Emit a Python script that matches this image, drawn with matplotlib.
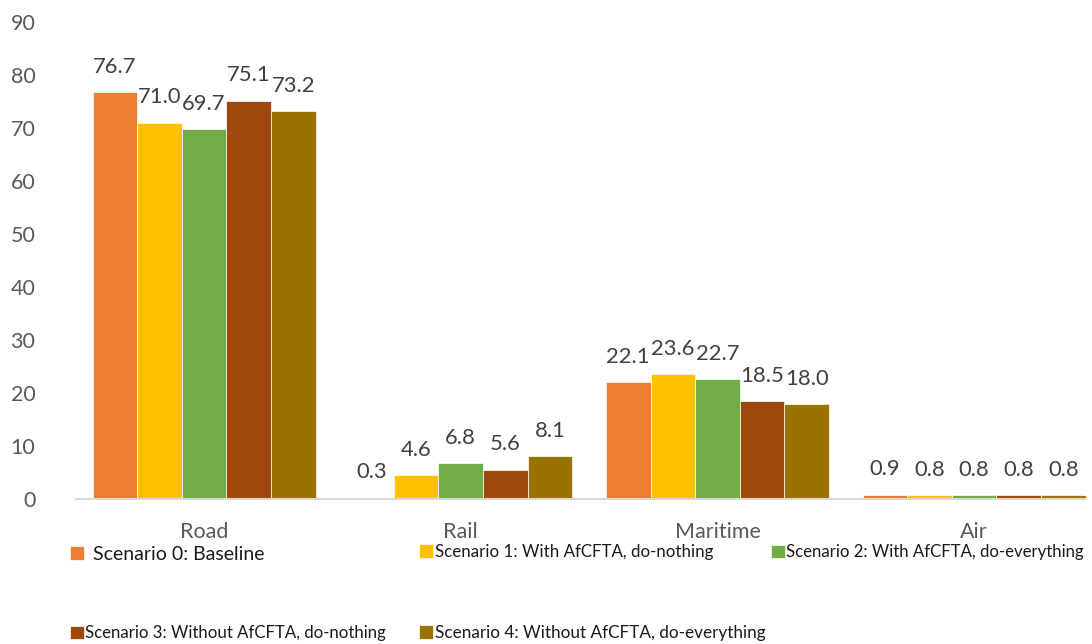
import matplotlib
matplotlib.use("Agg")
import matplotlib.pyplot as plt
import numpy as np

# data
modes = ["Road", "Rail", "Maritime", "Air"]
scenarios = [
    "Scenario 0: Baseline",
    "Scenario 1: With AfCFTA, do-nothing",
    "Scenario 2: With AfCFTA, do-everything",
    "Scenario 3: Without AfCFTA, do-nothing",
    "Scenario 4: Without AfCFTA, do-everything",
]
baseline = [76.7, 0.3, 22.1, 0.9]
with_nothing = [71.0, 4.6, 23.6, 0.8]
with_everything = [69.7, 6.8, 22.7, 0.8]
without_nothing = [75.1, 5.6, 18.5, 0.8]
without_everything = [73.2, 8.1, 18.0, 0.8]
yticks = [0, 10, 20, 30, 40, 50, 60, 70, 80, 90]

colors = ["#ED7D31", "#FFC000", "#70AD47", "#9E480E", "#997300"]

plt.rcParams['font.family'] = ['Lato', 'DejaVu Sans']

fig = plt.figure(figsize=(10.92, 6.44), dpi=100)
ax = fig.add_axes([75.7 / 1092, 144.7 / 644, 1010.3 / 1092, 477.6 / 644])

series = [baseline, with_nothing, with_everything, without_nothing, without_everything]
x = np.arange(len(modes))
w = 0.1738
containers = []
for i, vals in enumerate(series):
    bc = ax.bar(x + (i - 2) * w, vals, width=w, color=colors[i],
                edgecolor="white", linewidth=0.5, label=scenarios[i])
    ax.bar_label(bc, fmt="%.1f", padding=11, fontsize=15.8, color="#404040")
    containers.append(bc)

# the tiny rail baseline bar is drawn pale in the original
containers[0][1].set_facecolor("#F8CBAD")

ax.set_xlim(-0.5, 3.4357)
ax.set_ylim(0, 90)
ax.set_yticks(yticks)
ax.set_xticks(x)
ax.set_xticklabels(modes)
ax.tick_params(axis="y", length=0, pad=29, labelsize=15.5, labelcolor="#595959")
ax.tick_params(axis="x", length=0, pad=16, labelsize=15.5, labelcolor="#595959")
for lab in ax.get_yticklabels():
    lab.set_horizontalalignment("right")

for s in ["top", "right", "left"]:
    ax.spines[s].set_visible(False)
ax.spines["bottom"].set_color("#D9D9D9")
ax.spines["bottom"].set_linewidth(1.5)

# legend entries scattered the way the original lays them out
leg_spots = [
    (70, 554, 9, 14.0),
    (419, 552, 2, 12.2),
    (771, 552, 1, 12.1),
    (70, 633, 1, 12.1),
    (419, 633, 2, 12.3),
]
for bc, label, (px, py, gap, fs) in zip(containers, scenarios, leg_spots):
    fs_px = fs * 100 / 72
    fig.legend([bc], [label], loc="center left",
               bbox_to_anchor=(px / 1092, 1 - py / 644),
               frameon=False, fontsize=fs, borderpad=0, borderaxespad=0,
               handlelength=14 / fs_px, handleheight=14 / fs_px,
               handletextpad=gap / fs_px, labelcolor="#1a1a1a")

fig.savefig("out.png", dpi=100)
